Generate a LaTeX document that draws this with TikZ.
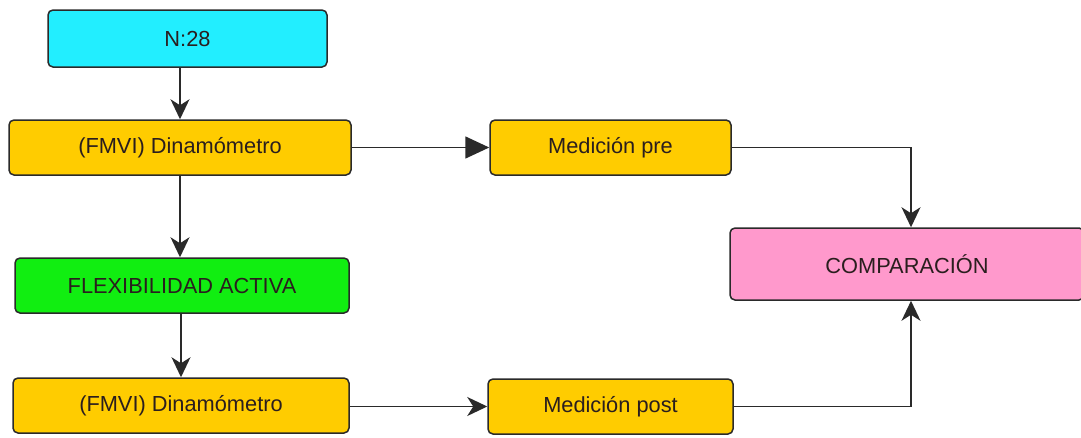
\documentclass[tikz,border=0pt]{standalone}
\usepackage{fontspec}
\setmainfont{Liberation Sans}
\usetikzlibrary{arrows.meta}
\definecolor{cyanbox}{HTML}{22EEFF}
\definecolor{orangebox}{HTML}{FFCC00}
\definecolor{greenbox}{HTML}{11EE11}
\definecolor{pinkbox}{HTML}{FF99CC}
\definecolor{edge}{HTML}{2A2A2A}
\definecolor{txt}{HTML}{2A1E1E}
\begin{document}
\begin{tikzpicture}[x=1pt,y=-1pt,
  box/.style={draw=edge, line width=1.5pt, rounded corners=5pt, inner sep=0pt,
    font=\fontsize{21.8}{24}\selectfont, text=txt},
  conn/.style={draw=edge, line width=1.6pt},
  stl/.style={-{Stealth[length=20pt,width=19pt,inset=6pt]}},
  tri/.style={-{Triangle[length=24pt,width=22pt]}}]
\useasboundingbox[fill=white] (0,0) rectangle (1081,437);
\node[box, fill=cyanbox, minimum width=279pt, minimum height=57pt] (n28) at (187.5,38.5) {N:28};
\node[box, fill=orangebox, minimum width=342pt, minimum height=55pt] (dyn1) at (180,147.5) {(FMVI) Dinamómetro};
\node[box, fill=orangebox, minimum width=241pt, minimum height=55pt] (pre) at (610.5,147.5) {Medición pre};
\node[box, fill=greenbox, minimum width=334pt, minimum height=55pt] (flex) at (182,285.5) {FLEXIBILIDAD ACTIVA};
\node[box, fill=orangebox, minimum width=336pt, minimum height=55pt] (dyn2) at (181,405.5) {(FMVI) Dinamómetro};
\node[box, fill=orangebox, minimum width=245pt, minimum height=55pt] (post) at (610.5,406.5) {Medición post};
\node[box, fill=pinkbox, minimum width=354pt, minimum height=72pt] (comp) at (907,264) {COMPARACIÓN};
\draw[conn, stl] (dyn1.north |- n28.south) -- (dyn1.north);
\draw[conn, stl] (dyn1.south) -- (dyn1.south |- flex.north);
\draw[conn, stl] (dyn2.north |- flex.south) -- (dyn2.north);
\draw[conn, tri] (dyn1.east) -- (pre.west);
\draw[conn, stl] (dyn2.east |- post.west) -- (post.west);
\draw[conn, stl] (pre.east) -| ([xshift=4pt]comp.north);
\draw[conn, stl] (post.east) -| ([xshift=4pt]comp.south);
\end{tikzpicture}
\end{document}
